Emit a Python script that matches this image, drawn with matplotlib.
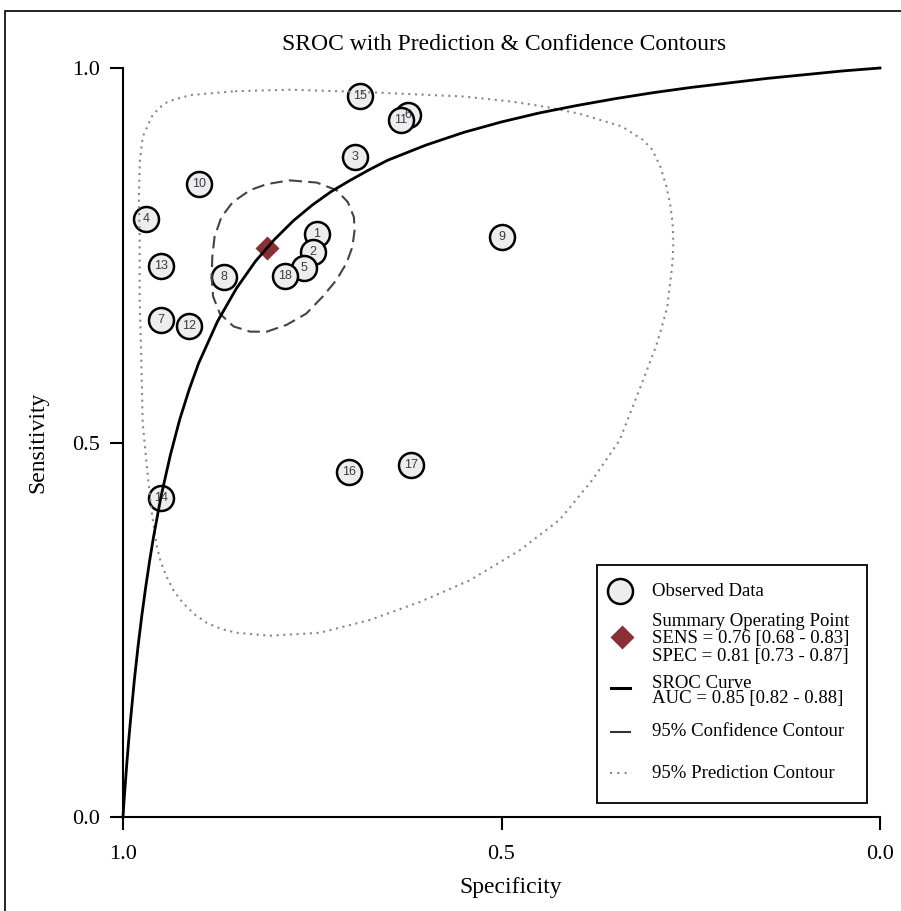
import matplotlib
matplotlib.use('Agg')
import matplotlib.pyplot as plt
from matplotlib.lines import Line2D
from matplotlib.patches import Rectangle

# study points (specificity, sensitivity)
study_ids = [6, 1, 2, 5, 18, 8, 3, 15, 11, 10, 4, 13, 7, 12, 9, 16, 17, 14]
study_spec = [0.624, 0.744, 0.749, 0.761, 0.786, 0.867, 0.694, 0.687, 0.633,
              0.900, 0.970, 0.950, 0.950, 0.913, 0.500, 0.701, 0.620, 0.950]
study_sens = [0.937, 0.778, 0.754, 0.733, 0.722, 0.721, 0.881, 0.963, 0.931,
              0.845, 0.798, 0.736, 0.664, 0.656, 0.774, 0.461, 0.470, 0.426]

summary_spec = 0.81
summary_sens = 0.76

# SROC curve
sroc_spec = [1.0, 0.9995, 0.999, 0.998, 0.995, 0.9925, 0.99, 0.985, 0.98, 0.975,
             0.97, 0.965, 0.96, 0.95, 0.9375, 0.925, 0.9125, 0.90, 0.875, 0.85,
             0.825, 0.80, 0.775, 0.75, 0.725, 0.70, 0.675, 0.65, 0.625, 0.60,
             0.55, 0.50, 0.45, 0.40, 0.35, 0.30, 0.25, 0.20, 0.15, 0.10,
             0.05, 0.0]
sroc_sens = [0.0, 0.008, 0.016, 0.030, 0.071, 0.102, 0.130, 0.183, 0.229, 0.270,
             0.307, 0.341, 0.372, 0.427, 0.483, 0.531, 0.571, 0.606, 0.662, 0.706,
             0.742, 0.771, 0.796, 0.817, 0.835, 0.850, 0.864, 0.877, 0.887, 0.897,
             0.914, 0.928, 0.940, 0.950, 0.959, 0.967, 0.974, 0.980, 0.986, 0.991,
             0.996, 1.0]

# 95% confidence contour
conf_spec = [0.780, 0.744, 0.718, 0.703, 0.695, 0.694, 0.697, 0.705, 0.718, 0.736,
             0.758, 0.784, 0.810, 0.832, 0.854, 0.872, 0.881, 0.883, 0.882, 0.879,
             0.870, 0.855, 0.832, 0.810, 0.780]
conf_sens = [0.850, 0.847, 0.837, 0.821, 0.801, 0.784, 0.761, 0.739, 0.717, 0.695,
             0.672, 0.657, 0.648, 0.648, 0.655, 0.672, 0.695, 0.721, 0.748, 0.775,
             0.801, 0.821, 0.837, 0.845, 0.850]

# 95% prediction contour
pred_spec = [0.852, 0.780, 0.714, 0.661, 0.617, 0.551, 0.485, 0.441, 0.397, 0.361,
             0.341, 0.327, 0.313, 0.301, 0.290, 0.282, 0.277, 0.274, 0.273, 0.274,
             0.281, 0.288, 0.296, 0.318, 0.344, 0.380, 0.423, 0.476, 0.542, 0.608,
             0.674, 0.740, 0.806, 0.850, 0.870, 0.889, 0.906, 0.921, 0.933, 0.942,
             0.950, 0.955, 0.962, 0.968, 0.974, 0.976, 0.978, 0.978, 0.979, 0.978,
             0.974, 0.962, 0.953, 0.941, 0.925, 0.909, 0.852]
pred_sens = [0.969, 0.971, 0.969, 0.967, 0.965, 0.962, 0.955, 0.948, 0.939, 0.928,
             0.922, 0.913, 0.904, 0.891, 0.868, 0.841, 0.817, 0.793, 0.767, 0.741,
             0.681, 0.655, 0.628, 0.570, 0.503, 0.450, 0.397, 0.356, 0.316, 0.287,
             0.263, 0.246, 0.242, 0.246, 0.251, 0.259, 0.271, 0.286, 0.302, 0.320,
             0.340, 0.360, 0.406, 0.463, 0.526, 0.619, 0.690, 0.774, 0.824, 0.873,
             0.908, 0.935, 0.946, 0.955, 0.960, 0.964, 0.969]

tick_vals = [1.0, 0.5, 0.0]
tick_labels = ['1.0', '0.5', '0.0']

legend_lines = ['Observed Data', 'Summary Operating Point',
                'SENS = 0.76 [0.68 - 0.83]', 'SPEC = 0.81 [0.73 - 0.87]',
                'SROC Curve', 'AUC = 0.85 [0.82 - 0.88]',
                '95% Confidence Contour', '95% Prediction Contour']

W, H = 901, 911
serif = 'Liberation Serif'
diamond_col = '#8b2f37'
pt_face = '#ededed'


def fx(x):
    return x / W


def fy(y):
    return 1 - y / H


fig = plt.figure(figsize=(W / 100, H / 100), dpi=100)
ax = fig.add_axes([fx(123), fy(817), (880 - 123) / W, (817 - 68) / H])

ax.plot(study_spec, study_sens, 'o', ms=18, mfc=pt_face, mec='black', mew=1.8,
        zorder=2, clip_on=False)
for sid, sp, se in zip(study_ids, study_spec, study_sens):
    ax.text(sp, se, str(sid), ha='center', va='center', fontsize=9,
            family='Liberation Sans', color='#3a3a48', zorder=3)

ax.plot(summary_spec, summary_sens, 'D', ms=12.5, color=diamond_col,
        mec='none', zorder=4)

ax.plot(pred_spec, pred_sens, color='#888888', lw=1.5,
        linestyle=(0, (1, 2.2)), zorder=5)
ax.plot(conf_spec, conf_sens, color='#444444', lw=1.5,
        linestyle=(0, (6, 3)), zorder=5)
ax.plot(sroc_spec, sroc_sens, color='black', lw=2, zorder=6, clip_on=False)

ax.set_xlim(1, 0)
ax.set_ylim(0, 1)
for s in ['top', 'right']:
    ax.spines[s].set_visible(False)
for s in ['left', 'bottom']:
    ax.spines[s].set_linewidth(1.5)
ax.set_xticks(tick_vals)
ax.set_xticklabels(tick_labels, family=serif, fontsize=16)
ax.set_yticks(tick_vals)
ax.set_yticklabels(tick_labels, family=serif, fontsize=16)
ax.tick_params(length=9.5, width=1.5, direction='out')
ax.tick_params(axis='x', pad=11)
ax.tick_params(axis='y', pad=7)

fig.text(fx(504), fy(44), 'SROC with Prediction & Confidence Contours',
         ha='center', va='center', family=serif, fontsize=17)
fig.text(fx(511), fy(887), 'Specificity', ha='center', va='center',
         family=serif, fontsize=17)
fig.text(fx(38), fy(442), 'Sensitivity', ha='center', va='center',
         family=serif, fontsize=17, rotation=90)

# outer frame (cut at right and bottom)
fig.add_artist(Rectangle((fx(5), -0.1), 1.2, fy(11) + 0.1, transform=fig.transFigure,
                         fill=False, ec='black', lw=1.2))

# legend box, drawn by hand
fig.add_artist(Rectangle((fx(597), fy(803)), (867 - 597) / W, (803 - 565) / H,
                         transform=fig.transFigure, fill=False, ec='black', lw=1.3,
                         zorder=10))
fig.add_artist(Line2D([fx(620)], [fy(591)], marker='o', ms=18, mfc=pt_face,
                      mec='black', mew=1.8, transform=fig.transFigure))
fig.add_artist(Line2D([fx(622)], [fy(637)], marker='D', ms=12.5, color=diamond_col,
                      mec='none', transform=fig.transFigure))
fig.add_artist(Line2D([fx(611), fx(630)], [fy(688), fy(688)], color='black', lw=2.2,
                      transform=fig.transFigure))
fig.add_artist(Line2D([fx(611), fx(630)], [fy(732), fy(732)], color='#333333', lw=1.5,
                      transform=fig.transFigure))
fig.add_artist(Line2D([fx(610), fx(632)], [fy(773), fy(773)], color='#888888', lw=1.5,
                      linestyle=(0, (1, 2.5)), transform=fig.transFigure))
legend_y = [591, 621, 639, 657, 683, 699, 732, 774]
for txt, ly in zip(legend_lines, legend_y):
    fig.text(fx(652), fy(ly), txt, ha='left', va='center', family=serif,
             fontsize=13.5)

fig.savefig('out.png', dpi=100)
